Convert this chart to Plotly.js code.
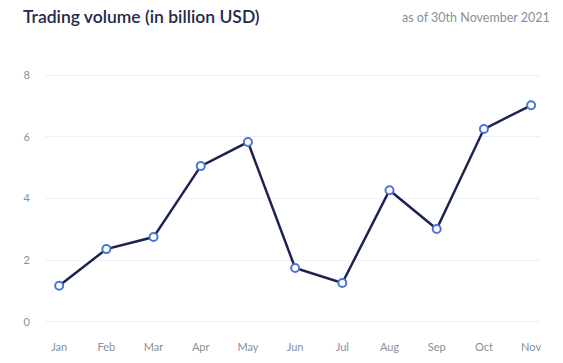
<!DOCTYPE html>
<html>
<head>
<meta charset="utf-8">
<script src="https://cdn.plot.ly/plotly-3.0.1.min.js"></script>
<style>html,body{margin:0;padding:0;background:#fff;}#chart{width:563px;height:363px;}</style>
</head>
<body>
<div id="chart"></div>
<script>
const months = ["Jan","Feb","Mar","Apr","May","Jun","Jul","Aug","Sep","Oct","Nov"];
const volume = [1.17, 2.36, 2.75, 5.05, 5.83, 1.75, 1.26, 4.27, 3.01, 6.25, 7.02];
const yTicks = [0, 2, 4, 6, 8];

const trace = {
  x: months,
  y: volume,
  type: "scatter",
  mode: "lines+markers",
  line: {color: "#1c2350", width: 2.5},
  marker: {size: 8, color: "#ffffff", line: {color: "#4b74db", width: 2}},
  cliponaxis: false,
  hoverinfo: "skip"
};

const fam = "Lato, 'Open Sans', sans-serif";

const layout = {
  width: 563, height: 363,
  margin: {l: 45, r: 22, t: 72, b: 38},
  paper_bgcolor: "#ffffff",
  plot_bgcolor: "#ffffff",
  showlegend: false,
  font: {family: fam, color: "#8a8f99"},
  xaxis: {
    type: "category",
    range: [-0.3, 10.21],
    showgrid: false, zeroline: false, showline: false,
    ticks: "", ticklabelstandoff: 14,
    tickfont: {family: fam, size: 11, color: "#8a8f99"}
  },
  yaxis: {
    range: [-0.1, 8.1],
    tickvals: yTicks,
    ticktext: yTicks.map(String),
    showgrid: true, gridcolor: "#eef0f5", gridwidth: 1,
    zeroline: false, showline: false,
    ticks: "", ticklabelstandoff: 14,
    tickfont: {family: fam, size: 11, color: "#8a8f99"}
  },
  annotations: [
    {text: "Trading volume (in billion USD)", xref: "paper", yref: "paper", x: 0, xshift: -24, y: 1, yshift: 56,
     xanchor: "left", yanchor: "middle", showarrow: false,
     font: {family: fam, size: 17.5, color: "#1e2a4d", weight: 600}},
    {text: "as of 30th November 2021", xref: "paper", yref: "paper", x: 1, xshift: 11, y: 1, yshift: 55,
     xanchor: "right", yanchor: "middle", showarrow: false,
     font: {family: fam, size: 12.5, color: "#8a8f99"}}
  ]
};

Plotly.newPlot("chart", [trace], layout, {staticPlot: true, displayModeBar: false});
</script>
</body>
</html>
